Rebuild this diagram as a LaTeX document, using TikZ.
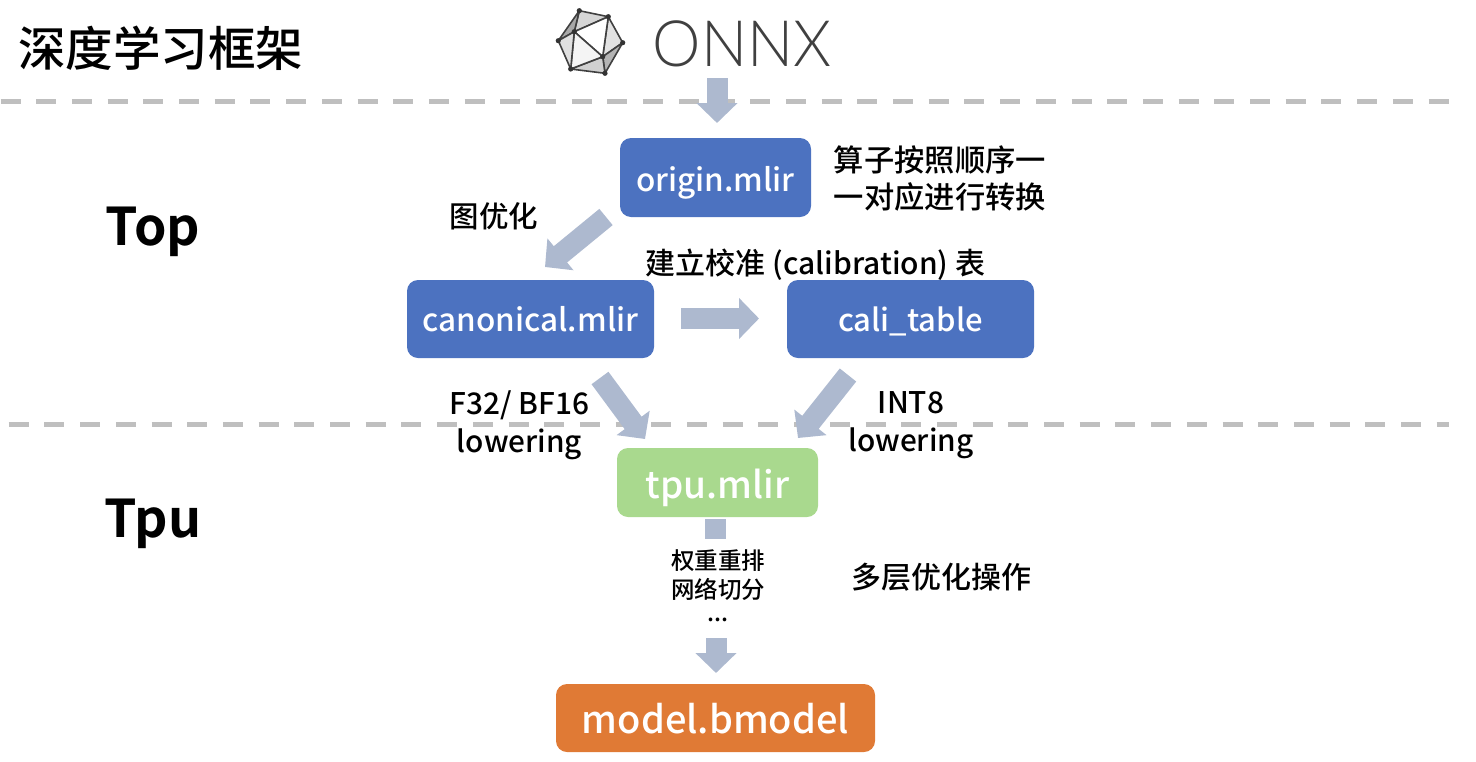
\documentclass[tikz,border=0pt]{standalone}
\usepackage{fontspec}
\setmainfont{Noto Sans CJK SC Medium}
\newfontfamily\boldfont{Noto Sans CJK SC Bold}
\newfontfamily\onnxfont{Lato Light}
\usepackage{xcolor}
\usetikzlibrary{arrows.meta}
\definecolor{boxblue}{HTML}{4C72C0}
\definecolor{boxgreen}{HTML}{A9D98E}
\definecolor{boxorange}{HTML}{E07A35}
\definecolor{arrowgrey}{HTML}{ADB9CF}
\definecolor{dashgrey}{HTML}{BFBFBF}

\begin{document}
\begin{tikzpicture}[x=1pt, y=-1pt,
	box/.style={rectangle, rounded corners=11pt, inner sep=0, text=white, text depth=0pt},
	bigarrow/.style={draw=arrowgrey, line width=21pt, -{Triangle[length=20pt, width=40pt]}},
	stem/.style={draw=arrowgrey, line width=21pt},
	txt/.style={inner sep=0, align=center, text=black},
	face/.style={draw=black!75, line width=1.6pt, line join=round}
]
	\useasboundingbox (0,0) rectangle (1476,761);
	\foreach \y/\s in {101/0.5,424/-27} {
		\draw[dashgrey, line width=5pt, dash pattern=on 20pt off 15.7pt] (\s,\y) -- (1449,\y);
	};
	\node[txt, font=\fontsize{47.5}{50}\selectfont] at(161,48) (title) {深度学习框架};
	\node[txt, font=\boldfont\fontsize{52}{56}\selectfont] at(153,232) (top) {Top};
	\node[txt, font=\boldfont\fontsize{52}{56}\selectfont] at(153,524) (tpu) {Tpu};

	\coordinate (la) at(579.3,10.7);
	\coordinate (lb) at(608.3,16.7);
	\coordinate (lc) at(622.7,42.7);
	\coordinate (ld) at(605,73.3);
	\coordinate (le) at(570.7,69);
	\coordinate (lf) at(558.3,40.7);
	\coordinate (lg) at(574.3,31.7);
	\coordinate (lh) at(602.7,56.7);
	\foreach \p/\q/\r/\g in {la/lb/lg/D6D6D6,la/lf/lg/A8A8A8,lb/lc/lh/E2E2E2,lb/lg/lh/FFFFFF,lc/ld/lh/B4B4B4,ld/le/lh/D0D0D0,le/lg/lh/F4F4F4,le/lf/lg/E0E0E0} {
		\definecolor{facecol}{HTML}{\g}
		\draw[face, fill=facecol] (\p) -- (\q) -- (\r) -- cycle;
	};
	\foreach \p in {la,lb,lc,ld,le,lf,lg,lh} {
		\fill[black!80] (\p) circle (2.6pt);
	};
	\node[txt, text=black!75, xscale=0.955, font=\onnxfont\fontsize{64}{70}\selectfont] at(742,44) (onnx) {ONNX};

	\node[box, fill=boxblue, text height=27pt, minimum width=191pt, minimum height=79pt, font=\fontsize{31.5}{36}\selectfont] at(715.5,177.5) (origin) {origin.mlir};
	\node[box, fill=boxblue, text height=25pt, minimum width=247pt, minimum height=78pt, font=\fontsize{31.5}{36}\selectfont] at(530.5,319) (canonical) {canonical.mlir};
	\node[box, fill=boxblue, text height=25pt, minimum width=247pt, minimum height=78pt, font=\fontsize{31}{36}\selectfont] at(910.5,319) (cali) {cali\_table};
	\node[box, fill=boxgreen, text height=32pt, minimum width=201pt, minimum height=69pt, font=\fontsize{37}{42}\selectfont] at(717.5,482.5) (tpumlir) {tpu.mlir};
	\node[box, fill=boxorange, text height=30pt, minimum width=319pt, minimum height=68pt, font=\fontsize{38}{42}\selectfont] at(715.5,718) (bmodel) {model.bmodel};

	\coordinate (a1s) at(717,78);
	\coordinate (a1e) at(717,123);
	\coordinate (a2s) at(606,217);
	\coordinate (a2e) at(545,267);
	\coordinate (a3s) at(681,318.5);
	\coordinate (a3e) at(759,318.5);
	\coordinate (a4s) at(600,378);
	\coordinate (a4e) at(645,439);
	\coordinate (a5s) at(848,375);
	\coordinate (a5e) at(798,438);
	\coordinate (a6s) at(715.5,519);
	\coordinate (a6e) at(715.5,539);
	\coordinate (a7s) at(716,638);
	\coordinate (a7e) at(716,673);
	\foreach \n in {1,...,5,7} {
		\draw[bigarrow] (a\n s) -- (a\n e);
	};
	\draw[stem] (a6s) -- (a6e);

	\node[txt, font=\fontsize{30.3}{37}\selectfont] at(940,179) (convert) {算子按照顺序一\\一对应进行转换};
	\node[txt, font=\fontsize{29.5}{36}\selectfont] at(494,216) (graphopt) {图优化};
	\node[txt, font=\fontsize{30}{36}\selectfont] at(815.5,265) (calib) {建立校准 (calibration) 表};
	\node[txt, font=\fontsize{29.8}{38}\selectfont] at(519.5,425) (f32) {F32/ BF16\\lowering};
	\node[txt, font=\fontsize{29.8}{38}\selectfont] at(911,425) (int8) {INT8\\lowering};
	\node[txt, font=\fontsize{23.5}{29}\selectfont] at(718,589) (passes) {权重重排\\网络切分\\\raisebox{6pt}{...}};
	\node[txt, font=\fontsize{30}{36}\selectfont] at(941.5,577) (multi) {多层优化操作};
\end{tikzpicture}
\end{document}
